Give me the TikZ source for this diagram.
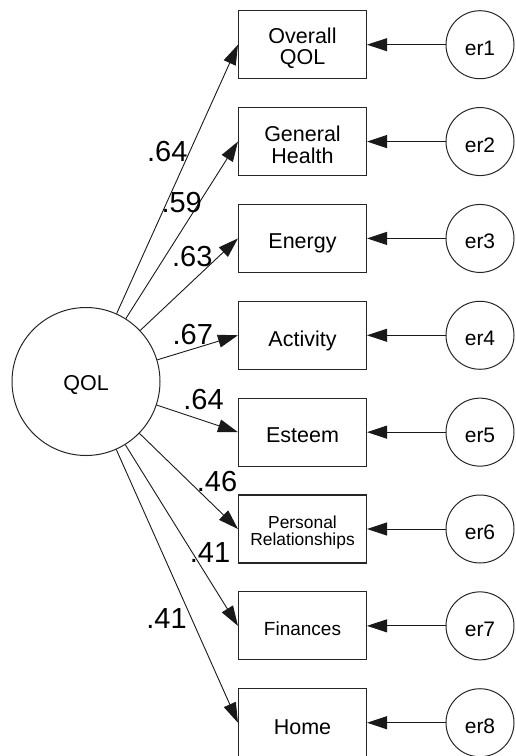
\documentclass[tikz,border=0pt]{standalone}
\usepackage{fontspec}
\setmainfont{Liberation Sans}
\usetikzlibrary{arrows.meta}
\begin{document}
\begin{tikzpicture}[x=1pt,y=-1pt,
  obs/.style={draw=black!85,line width=1.1pt,minimum width=128pt,minimum height=68pt,inner sep=0pt},
  txt/.style={inner sep=0pt,align=center,font=\fontsize{21.5}{21.5}\selectfont},
  lat/.style={draw=black!85,line width=1pt,circle,minimum size=148pt,inner sep=0pt},
  err/.style={draw=black!85,line width=1pt,circle,minimum size=68pt,inner sep=0pt},
  path/.style={draw=black!90,line width=0.9pt,-{Triangle[length=20pt,width=13pt]}},
  coef/.style={font=\fontsize{29}{29}\selectfont,inner sep=0pt}]
\useasboundingbox (0,0) rectangle (515,756);
\node[lat] (qol) at (86,381.5) {};
\node[txt,yshift=-4pt] (tq) at (qol) {QOL};
\foreach \i in {1,...,8}{
  \node[obs] (b\i) at (302.5,{44.7+96.86*(\i-1)}) {};
  \node[err] (e\i) at (480,{44.7+96.86*(\i-1)}) {};
  \node[txt,font=\fontsize{21}{21}\selectfont,yshift=-3.3pt] (te\i) at (e\i) {er\i};
  \draw[path] (e\i) -- (b\i);
  \draw[path] (qol) -- (b\i.west);
}
\node[txt,yshift=-3.3pt] (t1) at (b1) {Overall\\QOL};
\node[txt,yshift=-3.4pt] (t2) at (b2) {General\\Health};
\node[txt,yshift=-5.4pt] (t3) at (b3) {Energy};
\node[txt,yshift=-5.6pt] (t4) at (b4) {Activity};
\node[txt,yshift=-3.2pt] (t5) at (b5) {Esteem};
\node[txt,font=\fontsize{17.4}{16.2}\selectfont,yshift=-3.5pt] (t6) at (b6) {Personal\\Relationships};
\node[txt,font=\fontsize{19}{19}\selectfont,yshift=-2.9pt] (t7) at (b7) {Finances};
\node[txt,yshift=-4pt] (t8) at (b8) {Home};
\node[coef] (c1) at (167.3,152) {.64};
\node[coef] (c2) at (181.7,203) {.59};
\node[coef] (c3) at (192.3,257) {.63};
\node[coef] (c4) at (192.8,335) {.67};
\node[coef] (c5) at (203.5,400) {.64};
\node[coef] (c6) at (217,481.7) {.46};
\node[coef] (c7) at (210,553) {.41};
\node[coef] (c8) at (166.5,618.5) {.41};
\end{tikzpicture}
\end{document}
